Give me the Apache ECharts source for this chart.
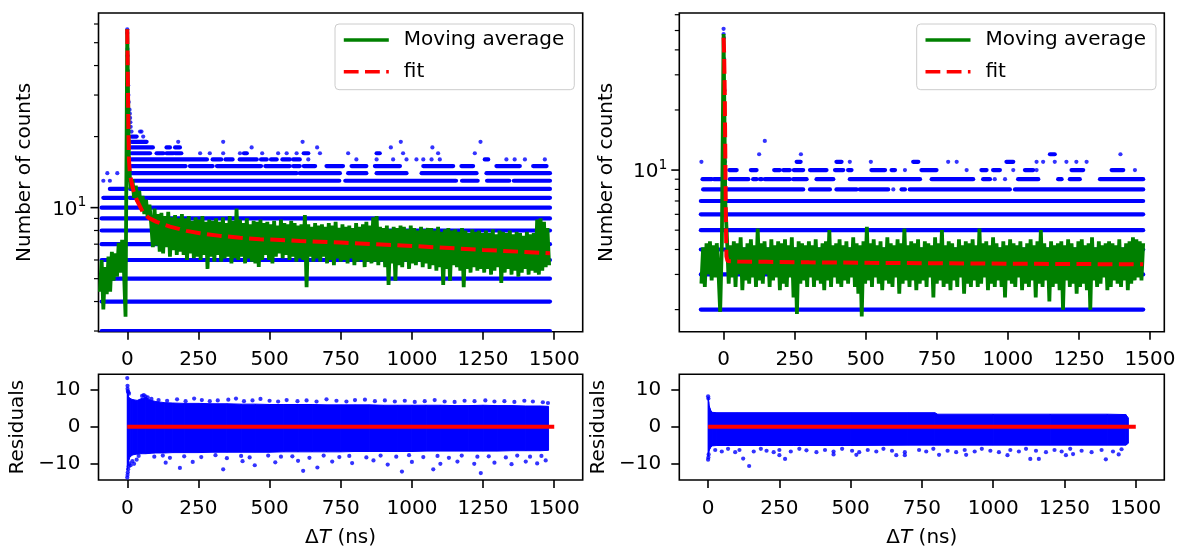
<!DOCTYPE html>
<html>
<head>
<meta charset="utf-8">
<script src="https://cdn.jsdelivr.net/npm/echarts@6/dist/echarts.min.js"></script>
<style>
  html, body { margin: 0; padding: 0; background: #ffffff; }
  #chart { width: 1182px; height: 549px; }
</style>
</head>
<body>
<div id="chart"></div>
<script>
// ---------------- data ----------------
const xTicks = [0, 250, 500, 750, 1000, 1250, 1500];
const resTicks = [-10, 0, 10];
const leftLogTicks = [3, 4, 5, 6, 7, 8, 9, 10, 20, 30, 40, 50, 60];
const rightLogTicks = [2, 3, 4, 5, 6, 7, 8, 9, 10, 20, 30, 40, 50, 60];
const majorLogTick = 10;

// moving average, sampled every avgStep ns starting at the given time
const avgStep = 6;
const leftAvgStart = -96;
const leftAvg = [
  4.4, 6.0, 3.7, 5.6, 4.3, 6.2, 4.4, 6.5, 4.9, 6.4, 5.1, 7.1, 5.3, 7.3, 5.6, 3.45,
  57,
  15.5, 12.0, 13.2, 11.0, 12.4, 10.6, 11.8, 9.9, 11.2, 9.4, 10.8, 9.0, 10.3, 8.6, 6.8, 9.9,
  6.9, 9.4, 6.5, 9.5, 6.4, 9.2, 6.8, 9.6, 6.2, 9.1, 6.6, 9.3, 6.3, 9.0, 6.5, 9.4,
  6.3, 9.0, 6.0, 9.2, 6.4, 8.8, 6.1, 9.1, 6.2, 8.9, 6.0, 9.2, 6.3, 8.7, 5.5, 8.9,
  6.2, 8.8, 5.9, 9.0, 6.3, 8.7, 5.9, 9.1, 6.1, 8.6, 6.2, 9.2, 5.8, 8.8, 6.1, 9.9,
  6.0, 8.9, 6.2, 8.6, 5.8, 9.0, 6.1, 8.5, 5.9, 8.8, 5.8, 8.7, 5.6, 8.9, 6.0, 8.6,
  6.3, 8.7, 6.0, 8.5, 5.8, 8.8, 6.2, 8.4, 6.4, 8.9, 6.1, 8.6, 6.3, 8.5, 6.0, 8.8,
  6.2, 8.6, 5.9, 8.4, 6.1, 8.5, 6.0, 9.3, 4.6, 8.5, 6.2, 8.3, 5.9, 8.6, 6.1, 8.4,
  5.9, 8.5, 6.2, 8.3, 5.8, 8.6, 6.0, 8.4, 5.7, 8.7, 6.1, 8.2, 5.9, 8.5, 6.0, 8.3,
  5.8, 8.4, 6.1, 8.2, 5.7, 8.6, 5.9, 8.3, 6.0, 8.5, 5.6, 8.7, 5.9, 8.4, 5.8, 9.1,
  5.9, 9.2, 5.7, 8.3, 5.9, 8.2, 5.6, 8.4, 4.7, 8.1, 5.8, 8.3, 4.9, 8.2, 5.7, 8.4,
  5.6, 8.3, 5.9, 8.1, 5.5, 8.4, 5.8, 8.2, 5.7, 8.0, 5.9, 8.3, 5.6, 8.1, 5.8, 8.2,
  5.5, 8.2, 5.7, 8.0, 5.4, 8.3, 5.6, 7.9, 4.7, 8.1, 5.5, 8.2, 4.9, 8.0, 5.7, 8.1,
  5.6, 7.9, 5.4, 8.2, 4.6, 8.0, 5.5, 7.8, 5.3, 8.1, 5.6, 7.9, 5.4, 8.0, 5.5, 7.8,
  5.3, 8.0, 5.5, 7.8, 5.2, 8.1, 5.4, 7.7, 5.6, 8.0, 4.8, 7.9, 5.3, 7.8, 5.5, 8.0,
  5.2, 7.7, 5.4, 7.9, 5.1, 7.8, 5.3, 7.6, 5.5, 7.9, 5.2, 7.7, 5.4, 7.8, 5.3, 8.9,
  5.2, 9.0, 5.4, 8.7, 5.6, 8.2, 5.7
];
const rightAvgStart = -78;
const rightAvg = [
  2.7, 4.1, 2.6, 4.3, 3.0, 4.4, 2.8, 4.2, 2.9, 4.3, 3.1, 1.95, 4.4,
  48,
  7.0,
  4.5, 2.7, 4.2, 2.9, 4.4, 2.6, 4.3, 3.0, 4.6, 2.5, 4.1, 2.8, 4.3, 2.7, 4.5, 2.9,
  4.2, 2.6, 5.1, 2.8, 4.3, 2.7, 4.4, 3.0, 4.1, 2.6, 4.5, 2.8, 4.2, 2.9, 4.4, 2.5,
  4.3, 2.7, 4.5, 2.6, 4.2, 2.9, 4.6, 2.3, 4.1, 1.9, 4.4, 2.7, 4.3, 2.8, 4.2, 2.6,
  4.4, 2.9, 4.2, 2.6, 4.5, 2.8, 4.1, 2.7, 4.3, 2.5, 4.4, 2.8, 5.0, 2.6, 4.2, 2.9,
  4.3, 2.7, 4.5, 2.6, 4.2, 2.8, 4.4, 2.7, 4.1, 2.9, 4.6, 2.6, 4.3, 2.4, 4.2, 1.85,
  4.4, 2.7, 5.2, 2.8, 4.3, 2.6, 4.5, 2.9, 4.2, 2.7, 4.4, 2.5, 4.1, 2.8, 4.6, 2.7,
  4.3, 2.6, 4.2, 2.9, 4.5, 2.4, 4.3, 2.7, 5.1, 2.8, 4.2, 2.6, 4.4, 2.8, 4.3, 2.5,
  4.5, 2.7, 4.1, 2.8, 4.4, 2.6, 4.3, 2.9, 4.2, 2.3, 4.6, 2.7, 4.3, 2.8, 5.0, 2.6,
  4.2, 2.7, 4.4, 2.5, 4.3, 2.8, 4.1, 2.6, 4.5, 2.9, 4.2, 2.4, 4.4, 2.7, 4.3, 2.6,
  4.5, 2.8, 4.2, 2.6, 5.1, 2.7, 4.3, 2.9, 4.4, 2.5, 4.2, 2.7, 4.6, 2.6, 4.3, 2.8,
  4.1, 2.6, 4.4, 2.3, 4.2, 2.8, 4.5, 2.7, 4.3, 2.6, 4.2, 2.9, 4.4, 2.5, 4.1, 2.7,
  4.3, 2.6, 4.5, 2.8, 4.2, 2.3, 4.4, 2.7, 5.0, 2.6, 4.3, 2.8, 4.1, 2.2, 4.4, 2.6,
  4.2, 2.7, 4.3, 2.5, 4.4, 2.0, 4.2, 2.8, 4.5, 2.6, 4.3, 2.7, 4.1, 2.4, 4.4, 2.6,
  4.5, 2.7, 4.2, 2.5, 4.3, 2.0, 4.6, 2.8, 4.1, 2.6, 4.4, 2.7, 4.2, 2.9, 4.3, 2.5,
  4.4, 2.6, 4.3, 2.8, 4.2, 2.7, 4.5, 2.6, 4.1, 2.8, 4.3, 2.5, 4.4, 2.7, 4.6, 2.8,
  4.5, 2.9, 4.4, 2.8, 4.3
];

// fitted decay curves
const leftFitX = [0, 2, 4, 6, 9, 14, 21, 33, 45, 56, 75, 103, 150, 208, 255, 326, 396, 466, 537, 607, 750, 1000, 1250, 1485];
const leftFitY = [57, 36, 22, 16, 14, 13, 11.9, 10.8, 10.1, 9.5, 9.05, 8.7, 8.31, 7.97, 7.79, 7.59, 7.46, 7.34, 7.3, 7.22, 7.11, 6.88, 6.62, 6.41];
const rightFitX = [0, 2, 4, 6, 8, 10, 14, 50, 150, 300, 515, 800, 1100, 1476];
const rightFitY = [46, 38, 25, 12, 5.5, 3.7, 3.5, 3.48, 3.47, 3.45, 3.43, 3.41, 3.39, 3.37];

// raw counts: runs of consecutive bins at one count level [from ns, to ns, count]
const leftRuns = [
  [-90, 1485, 3], [-90, 1485, 4], [-90, 1485, 5], [-90, 1485, 6], [-90, 1485, 7],
  [-90, 1485, 8], [-90, 1485, 9], [-90, 1485, 10],
  [-84, -8, 11], [8, 1485, 11],
  [-61, -8, 12], [10, 1485, 12],
  [12, 745, 13], [766, 1155, 13], [1176, 1231, 13], [1264, 1342, 13], [1358, 1485, 13],
  [14, 595, 14], [606, 747, 14], [776, 840, 14], [876, 981, 14], [1034, 1227, 14], [1262, 1485, 14],
  [15, 205, 15], [220, 300, 15], [315, 470, 15], [485, 571, 15], [583, 606, 15], [620, 660, 15],
  [700, 758, 15], [788, 840, 15], [870, 958, 15], [1040, 1145, 15], [1174, 1215, 15],
  [1297, 1379, 15], [1426, 1473, 15],
  [15, 280, 16], [300, 330, 16], [345, 370, 16], [395, 455, 16], [470, 490, 16], [505, 525, 16],
  [545, 571, 16], [583, 606, 16], [1256, 1268, 16],
  [15, 80, 17], [103, 127, 17], [138, 162, 17], [168, 190, 17], [410, 420, 17], [620, 636, 17], [876, 887, 17],
  [15, 90, 18], [138, 150, 18], [168, 185, 18],
  [15, 68, 19], [15, 33, 20]
];
// isolated bins [ns, count]
const leftDots = [
  [-84, 13], [-61, 13], [-70, 14], [-35, 14],
  [636, 16], [805, 16], [876, 16], [934, 16], [981, 16], [1016, 16], [1040, 16], [1069, 16], [1098, 16],
  [1332, 16], [1361, 16], [1397, 16], [1467, 16],
  [256, 17], [290, 17], [337, 17], [396, 17], [474, 17], [530, 17], [560, 17], [595, 17], [677, 17],
  [776, 17], [969, 17], [1092, 17], [1221, 17],
  [437, 18], [667, 18], [926, 18], [1072, 18],
  [179, 19], [337, 19], [616, 19], [961, 19], [1241, 19],
  [56, 20], [15, 21], [45, 21], [50, 21], [12, 22],
  [8, 26], [9, 25], [10, 24], [11, 23],
  [0, 57], [0, 55], [1, 47], [1, 44], [2, 38], [3, 33], [4, 30], [5, 28]
];
const rightRuns = [
  [-80, 1476, 2], [-80, 1476, 3], [-80, 1476, 4], [-80, 1476, 5], [-80, 1476, 6], [-80, 1476, 7],
  [-72, 280, 8], [304, 374, 8], [397, 468, 8], [479, 579, 8], [626, 638, 8], [655, 1007, 8], [1025, 1476, 8],
  [-74, -42, 9], [-34, -7, 9], [22, 87, 9], [104, 116, 9], [128, 134, 9], [145, 233, 9], [245, 292, 9],
  [327, 386, 9], [444, 691, 9], [732, 878, 9], [913, 937, 9], [1036, 1107, 9], [1177, 1189, 9],
  [1218, 1253, 9], [1324, 1476, 9],
  [20, 46, 10], [96, 116, 10], [178, 198, 10], [210, 233, 10], [247, 280, 10], [304, 362, 10],
  [392, 421, 10], [438, 450, 10], [520, 568, 10], [591, 603, 10], [696, 749, 10], [907, 925, 10],
  [948, 972, 10], [1060, 1089, 10], [1224, 1265, 10], [1365, 1406, 10],
  [257, 271, 11], [397, 415, 11], [667, 685, 11], [995, 1019, 11],
  [1148, 1165, 12]
];
const rightDots = [
  [597, 8], [954, 9], [990, 9],
  [638, 10], [855, 10], [1019, 10], [1101, 10], [1447, 10],
  [-78, 11], [444, 11], [518, 11], [790, 11], [820, 11], [1101, 11], [1124, 11], [1165, 11],
  [1206, 11], [1241, 11], [1277, 11],
  [125, 12], [272, 12], [1396, 12], [145, 14],
  [0, 51], [0, 48], [1, 46], [2, 36], [3, 25], [4, 15], [5, 11]
];

// residuals: dense band envelope plus the scattered bins outside it
const leftResX  = [0, 2, 5, 10, 20, 35, 50, 65, 80, 100, 130, 160, 200, 250, 300, 350, 400, 450, 500, 550, 600, 650, 700, 750, 800, 850, 900, 950, 1000, 1050, 1100, 1150, 1200, 1250, 1300, 1350, 1400, 1450, 1480];
const leftResHi = [9.5, 9.0, 8.0, 7.6, 7.3, 7.1, 7.6, 7.9, 7.2, 6.8, 6.5, 6.4, 6.3, 6.3, 6.2, 6.2, 6.1, 6.1, 6.0, 6.0, 6.0, 6.0, 5.9, 5.9, 5.9, 5.9, 5.8, 5.8, 5.8, 5.8, 5.8, 5.7, 5.7, 5.8, 5.7, 5.7, 5.6, 5.6, 5.5];
const leftResLo = [-11.5, -10.5, -9.0, -8.0, -7.5, -7.3, -7.2, -7.2, -7.1, -7.0, -7.0, -6.9, -6.9, -6.9, -6.8, -6.8, -6.8, -6.8, -6.8, -6.7, -6.7, -6.7, -6.7, -6.7, -6.6, -6.6, -6.6, -6.6, -6.6, -6.5, -6.5, -6.5, -6.5, -6.5, -6.5, -6.4, -6.4, -6.4, -6.3];
const leftResDots = [
  [0, 13.1], [1, 11.0], [1, 10.2], [2, 9.6], [4, 9.3], [6, 8.9],
  [0, -13.6], [1, -12.9], [2, -12.2], [3, -11.4], [5, -10.6], [8, -9.8], [12, -10.3], [18, -9.2], [24, -9.9], [33, -8.8],
  [52, 8.3], [58, 8.5], [64, 8.2], [72, 7.9], [85, 7.5],
  [110, 7.2], [140, 7.0], [175, 7.4], [205, 6.9], [235, 7.6], [262, 7.2], [290, 6.9], [318, 7.1], [355, 7.3],
  [382, 7.6], [410, 6.9], [440, 7.1], [468, 7.5], [500, 7.0], [530, 6.8], [560, 7.2], [598, 6.9], [630, 7.1],
  [665, 6.8], [700, 7.4], [735, 7.0], [770, 6.8], [800, 7.2], [835, 7.3], [870, 6.9], [905, 7.1], [940, 6.8],
  [975, 7.0], [1010, 6.7], [1045, 6.9], [1080, 7.2], [1115, 6.8], [1150, 6.7], [1185, 7.0], [1220, 6.9],
  [1258, 7.1], [1290, 6.8], [1325, 6.9], [1360, 6.7], [1395, 7.0], [1425, 6.8], [1460, 6.6], [1478, 6.4],
  [40, -7.8], [95, -8.0], [125, -7.7], [150, -8.3], [200, -7.9], [260, -8.1], [310, -7.6], [350, -8.4],
  [400, -7.8], [430, -8.2], [495, -7.7], [540, -8.0], [580, -7.9], [640, -8.3], [690, -7.7], [745, -8.1],
  [780, -7.8], [840, -8.2], [890, -7.7], [945, -8.0], [990, -7.6], [1040, -8.1], [1090, -7.8], [1130, -8.3],
  [1175, -7.7], [1230, -8.0], [1270, -7.9], [1330, -8.2], [1370, -7.7], [1415, -8.0], [1455, -7.8],
  [135, -9.6], [185, -11.0], [230, -9.4], [337, -11.4], [405, -9.2], [448, -10.3], [520, -9.5], [600, -9.1],
  [618, -11.8], [668, -10.9], [720, -9.3], [790, -9.7], [865, -9.0], [915, -10.1], [965, -12.0], [1000, -9.4],
  [1075, -11.4], [1100, -9.9], [1160, -9.3], [1219, -9.9], [1242, -12.4], [1290, -9.6], [1350, -10.0],
  [1400, -9.3], [1440, -9.8], [1470, -9.0]
];
const rightResX  = [0, 2, 4, 7, 10, 15, 30, 100, 300, 500, 700, 795, 805, 1000, 1200, 1400, 1465, 1474];
const rightResHi = [7.9, 6.8, 5.6, 4.9, 4.3, 3.9, 3.8, 3.8, 3.8, 3.8, 3.8, 3.8, 3.4, 3.4, 3.4, 3.4, 3.3, 2.4];
const rightResLo = [-8.0, -7.0, -6.3, -5.8, -5.4, -5.1, -5.0, -5.0, -5.0, -5.0, -4.9, -4.9, -4.9, -4.9, -4.9, -4.9, -4.9, -4.4];
const rightResDots = [
  [0, 8.2], [1, 7.6], [0, -8.8], [1, -8.2], [2, -7.4],
  [25, -6.2], [48, -6.6], [70, -5.9], [95, -6.8], [110, -6.2], [160, -6.6], [185, -5.9], [205, -6.4],
  [230, -6.8], [250, -6.2], [290, -6.6], [320, -5.9], [345, -6.3], [380, -6.8], [410, -6.2], [440, -6.6],
  [470, -5.9], [505, -6.4], [530, -6.8], [560, -6.2], [590, -6.6], [615, -5.9], [645, -6.4], [690, -6.8],
  [740, -6.2], [765, -6.6], [790, -5.9], [840, -6.4], [870, -6.8], [900, -6.2], [935, -6.6], [960, -5.9],
  [990, -6.4], [1020, -6.8], [1060, -6.2], [1090, -6.6], [1115, -5.9], [1150, -6.4], [1185, -6.8],
  [1215, -6.2], [1240, -6.6], [1270, -5.9], [1310, -6.4], [1345, -6.8], [1380, -6.2], [1420, -6.6], [1450, -6.0],
  [123, -8.5], [144, -10.5], [250, -7.6], [270, -8.6], [440, -7.4], [520, -7.5], [660, -7.6], [690, -7.6],
  [810, -7.5], [905, -7.5], [1050, -7.6], [1130, -8.6], [1160, -8.6], [1255, -7.6], [1280, -7.3],
  [1395, -8.7], [1440, -7.4]
];
const resFitX = [0, 1500];
const resFitY = [0, 0];

// ---------------- styling ----------------
const FONT = 'DejaVu Sans';
const BLUE = '#0000ff', GREEN = '#008000', RED = '#ff0000', INK = '#000000';
const FS = 20;

const leftX = [-101, 1600];
const rightMainX = [-155.8, 1550.3];
const resX = [-101, 1600];
const leftY = [2.98, 66.8];
const rightY = [1.55, 61.2];
const resY = [-14.25, 14.1];

const grids = [
  { left: 98.5, top: 13, width: 484.2, height: 318.7 },
  { left: 98.5, top: 374.3, width: 484.2, height: 107.4 },
  { left: 679.3, top: 13, width: 485, height: 318.7 },
  { left: 679.3, top: 374.3, width: 485, height: 107.4 }
].map(g => Object.assign({ show: true, borderColor: INK, borderWidth: 1.6, backgroundColor: 'transparent', containLabel: false }, g));

const textBase = { color: INK, fontFamily: FONT, fontSize: FS };

function xAxis(gridIndex, range, withName, margin) {
  const ax = {
    type: 'value', gridIndex, min: range[0], max: range[1],
    axisLine: { show: false, onZero: false }, splitLine: { show: false },
    axisTick: { show: true, length: 8, lineStyle: { color: INK, width: 1.6 }, customValues: xTicks },
    axisLabel: Object.assign({ customValues: xTicks, margin, formatter: v => String(v) }, textBase)
  };
  if (withName) {
    ax.name = '\u0394{i|T} (ns)';
    ax.nameLocation = 'middle';
    ax.nameGap = 48;
    ax.nameTextStyle = Object.assign({ rich: { i: Object.assign({ fontStyle: 'italic' }, textBase) } }, textBase);
  }
  return ax;
}

function logYAxis(gridIndex, range, nameGap) {
  return {
    type: 'log', logBase: 10, gridIndex, min: range[0], max: range[1],
    axisLine: { show: false, onZero: false }, splitLine: { show: false }, axisTick: { show: false }, minorTick: { show: false },
    axisLabel: {
      margin: 12,
      formatter: v => (Math.abs(v - majorLogTick) < 1e-6 ? '{m|10}{s|1}' : ''),
      rich: {
        m: Object.assign({ padding: [4, 0, 0, 0] }, textBase),
        s: { color: INK, fontFamily: FONT, fontSize: 14, verticalAlign: 'top' }
      }
    },
    name: 'Number of counts', nameLocation: 'middle', nameGap,
    nameTextStyle: textBase
  };
}

function resYAxis(gridIndex, nameGap) {
  return {
    type: 'value', gridIndex, min: resY[0], max: resY[1],
    axisLine: { show: false, onZero: false }, splitLine: { show: false },
    axisTick: { show: true, length: 8, lineStyle: { color: INK, width: 1.6 }, customValues: resTicks },
    axisLabel: Object.assign({
      customValues: resTicks, margin: 18,
      formatter: v => (v < 0 ? '\u2212' + Math.abs(v) : String(v))
    }, textBase),
    name: 'Residuals', nameLocation: 'middle', nameGap,
    nameTextStyle: textBase
  };
}

// horizontal runs of equal-count bins
function runsSeries(runs, ax) {
  return {
    type: 'custom', xAxisIndex: ax, yAxisIndex: ax, clip: true, silent: true, z: 1,
    data: runs, encode: { x: [0, 1], y: 2 },
    renderItem(params, api) {
      const y = api.value(2);
      const a = api.coord([api.value(0), y]);
      const b = api.coord([api.value(1), y]);
      return { type: 'line', shape: { x1: a[0], y1: a[1], x2: b[0], y2: b[1] },
               style: { stroke: BLUE, lineWidth: 4.2, lineCap: 'round' } };
    }
  };
}

function dotsSeries(dots, ax, z) {
  return {
    type: 'scatter', xAxisIndex: ax, yAxisIndex: ax, data: dots, symbolSize: 4.2,
    itemStyle: { color: BLUE }, silent: true, z: z || 1, clip: true
  };
}

// tick marks of the log axes (decade tick long, the others short)
function logTickSeries(values, ax, xMin) {
  return {
    type: 'custom', xAxisIndex: ax, yAxisIndex: ax, clip: false, silent: true, z: 10,
    data: values.map(v => [xMin, v]), encode: { x: 0, y: 1 },
    renderItem(params, api) {
      const v = api.value(1);
      const p = api.coord([api.value(0), v]);
      const major = Math.abs(v - majorLogTick) < 1e-6;
      const len = major ? 8 : 4.5;
      return { type: 'line', shape: { x1: p[0] - len, y1: p[1], x2: p[0], y2: p[1] },
               style: { stroke: INK, lineWidth: major ? 1.6 : 1.2 } };
    }
  };
}

// filled band of the dense residual cloud
function bandSeries(xs, hi, lo, ax) {
  return {
    type: 'custom', xAxisIndex: ax, yAxisIndex: ax, clip: true, silent: true, z: 1,
    data: xs.map((x, i) => [x, hi[i], lo[i]]), encode: { x: 0, y: [1, 2] },
    renderItem(params, api) {
      const i = params.dataIndexInside;
      if (i >= params.dataInsideLength - 1) return null;
      const x0 = api.value(0, i), h0 = api.value(1, i), l0 = api.value(2, i);
      const x1 = api.value(0, i + 1), h1 = api.value(1, i + 1), l1 = api.value(2, i + 1);
      const pts = [api.coord([x0, h0]), api.coord([x1, h1]), api.coord([x1, l1]), api.coord([x0, l0])];
      return { type: 'polygon', shape: { points: pts }, style: { fill: BLUE, stroke: BLUE, lineWidth: 1 } };
    }
  };
}

function avgSeries(vals, start, ax) {
  return {
    type: 'line', name: 'Moving average', xAxisIndex: ax, yAxisIndex: ax,
    data: vals.map((v, i) => [start + i * avgStep, v]),
    symbol: 'none', lineStyle: { color: GREEN, width: 3.8 }, itemStyle: { color: GREEN },
    z: 3, silent: true, clip: true
  };
}

function fitSeries(xs, ys, ax) {
  return {
    type: 'line', name: 'fit', xAxisIndex: ax, yAxisIndex: ax,
    data: xs.map((x, i) => [x, ys[i]]),
    symbol: 'none', lineStyle: { color: RED, width: 4, type: [14.8, 6.4] }, itemStyle: { color: RED },
    z: 4, silent: true, clip: true
  };
}

function baselineSeries(ax) {
  return {
    type: 'line', name: 'zero', xAxisIndex: ax, yAxisIndex: ax,
    data: resFitX.map((x, i) => [x, resFitY[i]]),
    symbol: 'none', lineStyle: { color: RED, width: 4 }, z: 5, silent: true
  };
}

const legendBase = {
  orient: 'vertical', data: ['Moving average', 'fit'], selectedMode: false,
  itemWidth: 45, itemHeight: 20, itemGap: 11.7, padding: [6, 10, 8, 7],
  borderColor: '#cccccc', borderWidth: 1, borderRadius: 4, backgroundColor: 'rgba(255,255,255,0.8)',
  itemStyle: { color: 'rgba(0,0,0,0)', borderColor: 'rgba(0,0,0,0)', borderWidth: 0, opacity: 0 },
  lineStyle: { width: 3.6 },
  textStyle: Object.assign({ padding: [0, 0, 0, 10], lineHeight: 20 }, textBase)
};

const option = {
  animation: false,
  backgroundColor: '#ffffff',
  grid: grids,
  legend: [
    Object.assign({ left: 335, top: 24 }, legendBase),
    Object.assign({ left: 916.7, top: 24 }, legendBase)
  ],
  xAxis: [
    xAxis(0, leftX, false, 18), xAxis(1, resX, true, 19),
    xAxis(2, rightMainX, false, 18), xAxis(3, resX, true, 19)
  ],
  yAxis: [
    logYAxis(0, leftY, 63.5), resYAxis(1, 70.5),
    logYAxis(2, rightY, 62.5), resYAxis(3, 70.5)
  ],
  series: [
    runsSeries(leftRuns, 0), dotsSeries(leftDots, 0),
    avgSeries(leftAvg, leftAvgStart, 0), fitSeries(leftFitX, leftFitY, 0),
    logTickSeries(leftLogTicks, 0, leftX[0]),
    bandSeries(leftResX, leftResHi, leftResLo, 1), dotsSeries(leftResDots, 1), baselineSeries(1),
    runsSeries(rightRuns, 2), dotsSeries(rightDots, 2),
    avgSeries(rightAvg, rightAvgStart, 2), fitSeries(rightFitX, rightFitY, 2),
    logTickSeries(rightLogTicks, 2, rightMainX[0]),
    bandSeries(rightResX, rightResHi, rightResLo, 3), dotsSeries(rightResDots, 3), baselineSeries(3)
  ]
};

const chart = echarts.init(document.getElementById('chart'), null, { renderer: 'canvas' });
chart.setOption(option);
</script>
</body>
</html>
